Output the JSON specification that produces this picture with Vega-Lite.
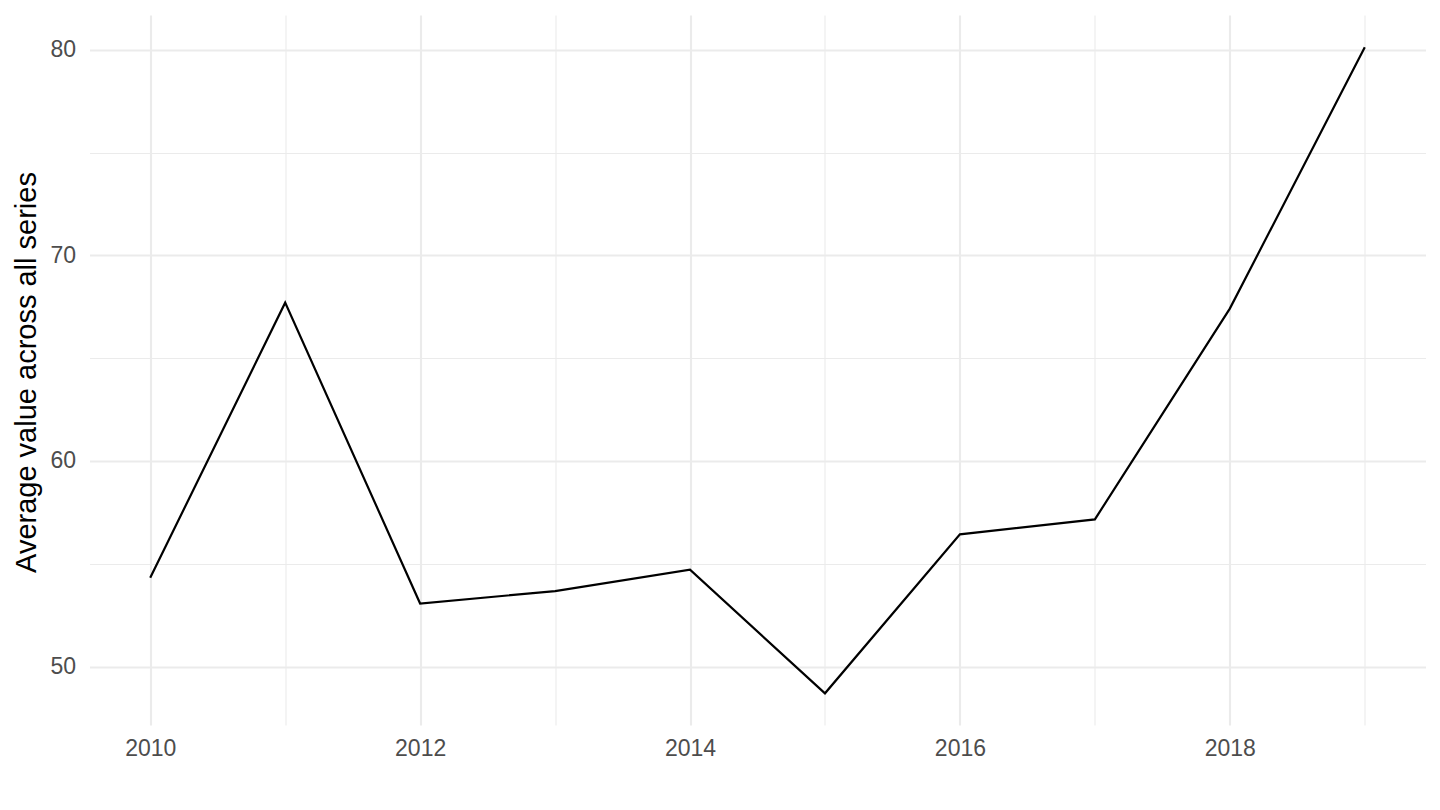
{
  "$schema": "https://vega.github.io/schema/vega-lite/v6.json",
  "background": "white",
  "autosize": {"type": "none"},
  "padding": {"left": 89.5, "top": 15, "right": 14.5, "bottom": 85},
  "width": 1336,
  "height": 710,
  "data": {
    "values": [
      {"year": 2010, "value": 54.32},
      {"year": 2011, "value": 67.70},
      {"year": 2012, "value": 53.07},
      {"year": 2013, "value": 53.67},
      {"year": 2014, "value": 54.71},
      {"year": 2015, "value": 48.70},
      {"year": 2016, "value": 56.43},
      {"year": 2017, "value": 57.16},
      {"year": 2018, "value": 67.41},
      {"year": 2019, "value": 80.12}
    ]
  },
  "layer": [
    {
      "mark": {"type": "line", "strokeOpacity": 0},
      "encoding": {
        "x": {
          "field": "year",
          "type": "quantitative",
          "scale": {"domain": [2009.55, 2019.45], "nice": false, "zero": false},
          "axis": {
            "orient": "bottom",
            "values": [2011, 2013, 2015, 2017, 2019],
            "labels": false,
            "ticks": false,
            "domain": false,
            "title": null,
            "grid": true,
            "gridColor": "#EBEBEB",
            "gridWidth": 1.1
          }
        },
        "y": {
          "field": "value",
          "type": "quantitative",
          "scale": {"domain": [47.16, 81.69], "nice": false, "zero": false},
          "axis": {
            "orient": "left",
            "values": [55, 65, 75],
            "labels": false,
            "ticks": false,
            "domain": false,
            "title": null,
            "grid": true,
            "gridColor": "#EBEBEB",
            "gridWidth": 1.1
          }
        }
      }
    },
    {
      "mark": {"type": "line", "color": "black", "strokeWidth": 2.2},
      "encoding": {
        "x": {
          "field": "year",
          "type": "quantitative",
          "scale": {"domain": [2009.55, 2019.45], "nice": false, "zero": false},
          "axis": {
            "orient": "bottom",
            "values": [2010, 2012, 2014, 2016, 2018],
            "format": "d",
            "ticks": false,
            "domain": false,
            "title": null,
            "grid": true,
            "gridColor": "#EBEBEB",
            "gridWidth": 2.1,
            "labelFont": "Liberation Sans",
            "labelFontSize": 23,
            "labelColor": "#4D4D4D",
            "labelPadding": 12
          }
        },
        "y": {
          "field": "value",
          "type": "quantitative",
          "scale": {"domain": [47.16, 81.69], "nice": false, "zero": false},
          "axis": {
            "orient": "left",
            "values": [50, 60, 70, 80],
            "ticks": false,
            "domain": false,
            "grid": true,
            "gridColor": "#EBEBEB",
            "gridWidth": 2.1,
            "labelFont": "Liberation Sans",
            "labelFontSize": 23,
            "labelColor": "#4D4D4D",
            "labelPadding": 14,
            "title": "Average value across all series",
            "titleFont": "Liberation Sans",
            "titleFontSize": 29,
            "titleFontWeight": "normal",
            "titleColor": "black",
            "titleAngle": -90,
            "titleBaseline": "alphabetic",
            "titleAlign": "center",
            "titleX": -54.5,
            "titleY": 357
          }
        }
      }
    }
  ],
  "resolve": {"axis": {"x": "independent", "y": "independent"}},
  "config": {"view": {"stroke": null}}
}
